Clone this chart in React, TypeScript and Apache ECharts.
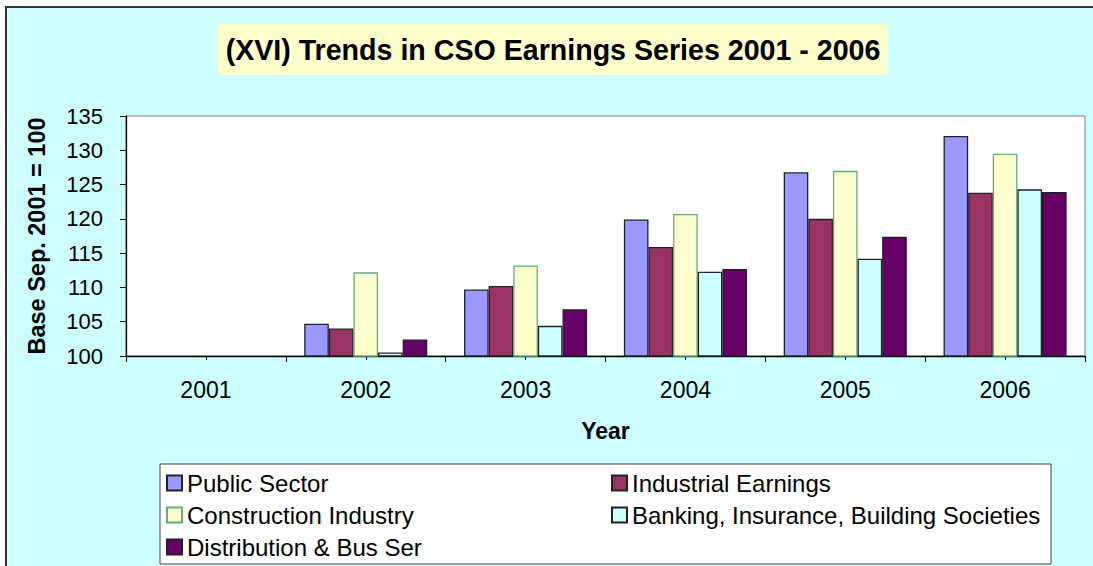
import React, { useEffect, useRef } from "react";
import * as echarts from "echarts";

const years = ["2001", "2002", "2003", "2004", "2005", "2006"];
const publicSector = [100, 104.7, 109.7, 119.9, 126.8, 132.1];
const industrialEarnings = [100, 104.0, 110.2, 115.9, 120.0, 123.8];
const constructionIndustry = [100, 112.2, 113.2, 120.7, 127.0, 129.5];
const banking = [100, 100.5, 104.4, 112.3, 114.2, 124.3];
const distribution = [100, 102.4, 106.8, 112.7, 117.4, 123.9];

const FONT = "'Liberation Sans', Arial, sans-serif";

export default function App() {
  const ref = useRef<HTMLDivElement>(null);
  useEffect(() => {
    document.body.style.margin = "0";
    const chart = echarts.init(ref.current!, undefined, { renderer: "svg" });
    const mk = (name: string, data: number[], color: string, border: string) => ({
      name,
      type: "bar",
      data,
      xAxisIndex: 0,
      barGap: "0%",
      barCategoryGap: "23%",
      itemStyle: { color, borderColor: border, borderWidth: 1.3 },
      emphasis: { disabled: true },
    });
    chart.setOption({
      animation: false,
      backgroundColor: "#ffffff",
      textStyle: { fontFamily: FONT },
      graphic: [
        {
          type: "rect",
          z: -2,
          shape: { x: 6, y: 7, width: 1100, height: 600 },
          style: { fill: "#CCFFFF", stroke: "#333333", lineWidth: 2 },
        },
        {
          type: "rect",
          z: -1,
          shape: { x: 218, y: 24, width: 670, height: 51 },
          style: { fill: "#FFFFCC" },
        },
        {
          type: "text",
          z: 1,
          x: 553,
          y: 50,
          style: {
            text: "(XVI) Trends in CSO Earnings Series 2001 - 2006",
            fontFamily: FONT,
            fontSize: 28.6,
            fontWeight: "bold",
            fill: "#000",
            align: "center",
            verticalAlign: "middle",
          },
        },
        {
          type: "rect",
          z: -1,
          shape: { x: 160, y: 464, width: 891, height: 100 },
          style: { fill: "#ffffff", stroke: "#404040", lineWidth: 1 },
        },
      ],
      legend: [
        {
          left: 166,
          top: 471,
          orient: "vertical",
          padding: 0,
          itemGap: 8,
          itemWidth: 15,
          itemHeight: 15,
          icon: "rect",
          selectedMode: false,
          textStyle: { fontFamily: FONT, fontSize: 24, color: "#000" },
          data: ["Public Sector", "Construction Industry", "Distribution & Bus Ser"],
        },
        {
          left: 611,
          top: 471,
          orient: "vertical",
          padding: 0,
          itemGap: 8,
          itemWidth: 15,
          itemHeight: 15,
          icon: "rect",
          selectedMode: false,
          textStyle: { fontFamily: FONT, fontSize: 24, color: "#000" },
          data: ["Industrial Earnings", "Banking, Insurance, Building Societies"],
        },
      ],
      grid: {
        left: 126,
        right: 8,
        top: 116,
        bottom: 210,
        show: true,
        backgroundColor: "#ffffff",
        borderColor: "#808080",
        borderWidth: 1,
      },
      xAxis: [
        {
          type: "category",
          data: years,
          position: "bottom",
          name: "Year",
          nameLocation: "middle",
          nameGap: 63,
          nameTextStyle: { fontFamily: FONT, fontSize: 23, fontWeight: "bold", color: "#000" },
          axisLine: { lineStyle: { color: "#000", width: 1.3 } },
          axisTick: { show: true, length: 6, lineStyle: { color: "#000" } },
          axisLabel: { fontFamily: FONT, fontSize: 23, color: "#000", margin: 22 },
        },
        {
          type: "category",
          data: years,
          position: "bottom",
          axisLine: { show: false },
          axisTick: { show: true, alignWithLabel: true, length: 4, lineStyle: { color: "#000" } },
          axisLabel: { show: false },
        },
      ],
      yAxis: {
        type: "value",
        min: 100,
        max: 135,
        interval: 5,
        name: "Base Sep. 2001 = 100",
        nameLocation: "middle",
        nameGap: 77,
        nameTextStyle: { fontFamily: FONT, fontSize: 23.5, fontWeight: "bold", color: "#000" },
        axisLine: { show: true, lineStyle: { color: "#000", width: 1.3 } },
        axisTick: { show: true, length: 6, lineStyle: { color: "#000" } },
        axisLabel: { fontFamily: FONT, fontSize: 22, color: "#000", margin: 23 },
        splitLine: { show: false },
      },
      series: [
        mk("Public Sector", publicSector, "#9999FF", "#222222"),
        mk("Industrial Earnings", industrialEarnings, "#993366", "#222222"),
        mk("Construction Industry", constructionIndustry, "#FFFFCC", "#5FAE7F"),
        mk("Banking, Insurance, Building Societies", banking, "#CCFFFF", "#222222"),
        mk("Distribution & Bus Ser", distribution, "#660066", "#222222"),
      ],
    });
    return () => chart.dispose();
  }, []);
  return <div ref={ref} style={{ width: 1093, height: 566 }} />;
}
